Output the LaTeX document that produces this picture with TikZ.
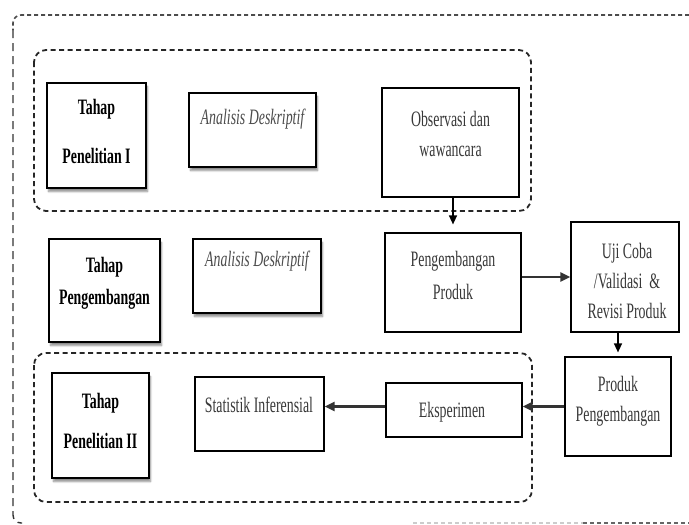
\documentclass[tikz,border=0pt]{standalone}
\usepackage{fontspec}
\setmainfont[FakeStretch=0.63]{Liberation Serif}
\usetikzlibrary{arrows.meta, shadows.blur}

\begin{document}
\begin{tikzpicture}[x=1pt,y=-1pt]
    \tikzset{box/.style = {draw, line width=1.2pt, inner sep=0pt, fill=white}}
    \tikzset{shadowbox/.style = {box, blur shadow={shadow xshift=1.5pt, shadow yshift=-3.5pt, shadow blur steps=6, shadow opacity=45}}}
    \tikzset{txt/.style = {align=center, text=black!78, font=\fontsize{22}{24}\selectfont}}
    \tikzset{btxt/.style = {align=center, text=black, font=\fontsize{22}{24}\selectfont\bfseries}}
    \tikzset{itxt/.style = {align=center, text=black!70, font=\fontsize{22}{24}\selectfont\itshape}}
    \tikzset{group/.style = {draw=black!85, line width=1.8pt, dash pattern=on 5pt off 3.5pt, rounded corners=12pt}}
    \tikzset{bigedge/.style = {-{Triangle[length=10pt,width=9pt]}, line width=2.6pt, black!80}}
    \tikzset{smalledge/.style = {-{Triangle[length=9pt,width=8pt]}, line width=1.4pt}}

    \useasboundingbox (0,0) rectangle (689,525);

    % outer frame
    \draw[black!70, line width=1.6pt, dash pattern=on 4pt off 3pt, rounded corners=8pt] (689,15) -- (13,15) -- (13,30);
    \draw[black!80, line width=1.4pt, dash pattern=on 8pt off 5pt, rounded corners=8pt] (13,30) -- (13,523) -- (22,523);
    \draw[gray!40, line width=1.6pt, dash pattern=on 4pt off 3pt] (413,523) -- (583,523);
    \draw[black!60, line width=1.6pt, dash pattern=on 4pt off 3pt] (583,523) -- (689,523);

    % groups
    \draw[group] (34,50) rectangle (531,211);
    \draw[group] (34,353) rectangle (532,502);

    % row 1
    \node[shadowbox, minimum width=99pt, minimum height=105pt] (tp1) at (96.5,135.5) {};
    \node[btxt] (tp1txt) at (96.5,131) {Tahap\\[25pt]Penelitian I};
    \node[shadowbox, minimum width=127pt, minimum height=74pt] (an1) at (252.5,130) {};
    \node[itxt] (an1txt) at (252.5,119) {Analisis Deskriptif};
    \node[box, minimum width=137pt, minimum height=109pt] (obs) at (450.5,142.5) {};
    \node[txt] (obstxt) at (450.5,134) {Observasi dan\\[6pt]wawancara};

    % row 2
    \node[shadowbox, minimum width=111pt, minimum height=103pt] (tp2) at (104.5,290.5) {};
    \node[btxt] (tp2txt) at (104.5,283) {Tahap\\[8pt]Pengembangan};
    \node[shadowbox, minimum width=128pt, minimum height=74pt] (an2) at (257,276) {};
    \node[itxt] (an2txt) at (257,261) {Analisis Deskriptif};
    \node[box, minimum width=136pt, minimum height=99pt] (pp) at (453,282.5) {};
    \node[txt] (pptxt) at (453,275) {Pengembangan\\[9pt]Produk};
    \node[box, minimum width=108pt, minimum height=110pt] (uji) at (625,277) {};
    \node[txt] (ujitxt) at (627,281) {Uji Coba\\[6pt]/Validasi \ \&\\[6pt]Revisi Produk};

    % row 3
    \node[shadowbox, minimum width=97pt, minimum height=105pt] (tp3) at (100.5,425.5) {};
    \node[btxt] (tp3txt) at (100.5,421) {Tahap\\[16pt]Penelitian II};
    \node[box, minimum width=129pt, minimum height=74pt] (si) at (259.5,414) {};
    \node[txt] (sitxt) at (259,405) {Statistik Inferensial};
    \node[box, minimum width=136pt, minimum height=54pt] (eks) at (454,410) {};
    \node[txt] (ekstxt) at (452,412) {Eksperimen};
    \node[box, minimum width=106pt, minimum height=99pt] (prod) at (618,406.5) {};
    \node[txt] (prodtxt) at (618,401) {Produk\\[6pt]Pengembangan};

    % arrows
    \draw[smalledge, shorten >=8pt] (obs.south -| pp.north) -- (pp.north);
    \draw[bigedge] (pp.east |- uji.west) -- (uji.west);
    \draw[smalledge, shorten >=4pt] (uji.south -| prod.north) -- (prod.north);
    \draw[bigedge] (prod.west) -- (prod.west -| eks.east);
    \draw[bigedge] (eks.west |- prod.west) -- (si.east |- prod.west);

\end{tikzpicture}
\end{document}
